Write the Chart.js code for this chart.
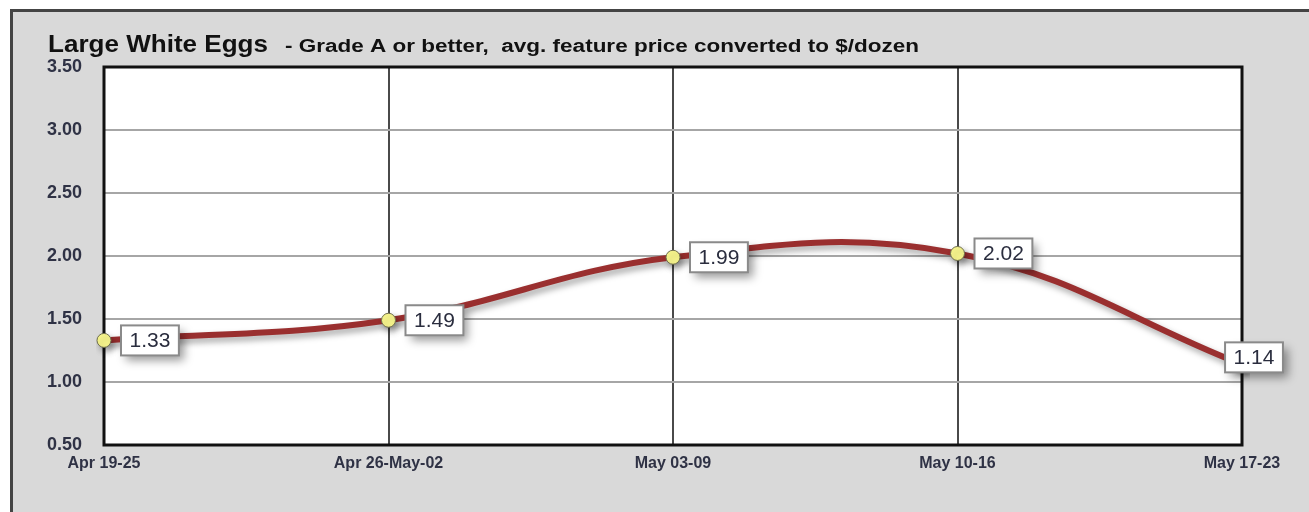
<!DOCTYPE html>
<html>
<head>
<meta charset="utf-8">
<script src="https://cdn.jsdelivr.net/npm/chart.js@4/dist/chart.umd.min.js"></script>
<style>
  html, body { margin: 0; padding: 0; background: #fff; }
  #wrap { width: 1309px; height: 512px; }
</style>
</head>
<body>
<div id="wrap"><canvas id="eggChart" width="1309" height="512"></canvas></div>
<script>
'use strict';
// chart data
const weeks = ['Apr 19-25', 'Apr 26-May-02', 'May 03-09', 'May 10-16', 'May 17-23'];
const prices = [1.33, 1.49, 1.99, 2.02, 1.14];
const yTicks = [0.5, 1.0, 1.5, 2.0, 2.5, 3.0, 3.5];
const titleMain = 'Large White Eggs';
const titleSub = '- Grade A or better,  avg. feature price converted to $/dozen';

const ctx = document.getElementById('eggChart');

// draw text squeezed/stretched to a given width
function drawWide(c, txt, x, y, width) {
  const w = c.measureText(txt).width;
  c.save();
  c.translate(x, y);
  c.scale(width / w, 1);
  c.fillText(txt, 0, 0);
  c.restore();
}

// gray panel, border and title
const framePlugin = {
  id: 'frame',
  beforeDraw(chart) {
    const c = chart.ctx;
    c.save();
    c.fillStyle = '#ffffff';
    c.fillRect(0, 0, chart.width, chart.height);
    c.fillStyle = '#d9d9d9';
    c.fillRect(11, 10, chart.width - 11, chart.height - 10);
    c.strokeStyle = '#444';
    c.lineWidth = 3;
    c.beginPath();
    c.moveTo(11.5, chart.height);
    c.lineTo(11.5, 10.5);
    c.lineTo(chart.width, 10.5);
    c.stroke();
    const a = chart.chartArea;
    c.fillStyle = '#ffffff';
    c.fillRect(a.left, a.top, a.right - a.left, a.bottom - a.top);
    // title
    c.fillStyle = '#111';
    c.textBaseline = 'alphabetic';
    c.textAlign = 'left';
    c.font = 'bold 24px "Liberation Sans", Arial, sans-serif';
    drawWide(c, titleMain, 48, 52, 220);
    c.font = 'bold 18px "Liberation Sans", Arial, sans-serif';
    drawWide(c, titleSub, 285, 52, 634);
    c.restore();
  },
  beforeDatasetsDraw(chart) {
    const a = chart.chartArea;
    const c = chart.ctx;
    c.save();
    c.strokeStyle = '#111';
    c.lineWidth = 3;
    c.strokeRect(a.left, a.top, a.right - a.left, a.bottom - a.top);
    c.restore();
  }
};

// shadow under the line
const shadowPlugin = {
  id: 'lineShadow',
  beforeDatasetDraw(chart) {
    const c = chart.ctx;
    c.save();
    c.shadowColor = 'rgba(0,0,0,0.35)';
    c.shadowBlur = 6;
    c.shadowOffsetX = 3;
    c.shadowOffsetY = 4;
  },
  afterDatasetDraw(chart) {
    chart.ctx.restore();
  }
};

// white boxed value labels
const labelPlugin = {
  id: 'valueLabels',
  afterDatasetsDraw(chart) {
    const c = chart.ctx;
    const meta = chart.getDatasetMeta(0);
    c.save();
    c.font = '21px "Liberation Sans", Arial, sans-serif';
    c.textBaseline = 'middle';
    c.textAlign = 'center';
    meta.data.forEach((pt, i) => {
      const txt = prices[i].toFixed(2);
      const tw = c.measureText(txt).width;
      const bw = tw + 17;
      const bh = 30;
      let bx = pt.x + 17;
      let by = pt.y - bh / 2;
      if (i === prices.length - 1) {
        bx = pt.x + 12 - bw / 2;
        by = pt.y - 7 - bh / 2;
      }
      c.save();
      c.shadowColor = 'rgba(0,0,0,0.4)';
      c.shadowBlur = 9;
      c.shadowOffsetX = 5;
      c.shadowOffsetY = 6;
      c.fillStyle = '#fff';
      c.fillRect(bx, by, bw, bh);
      c.restore();
      c.strokeStyle = '#8a8a8a';
      c.lineWidth = 2;
      c.strokeRect(bx, by, bw, bh);
      c.fillStyle = '#2a2d3e';
      c.fillText(txt, bx + bw / 2, by + bh / 2 + 1);
    });
    c.restore();
  }
};

new Chart(ctx, {
  type: 'line',
  data: {
    labels: weeks,
    datasets: [{
      data: prices,
      borderColor: '#9a2f2f',
      borderWidth: 6,
      tension: 0.4,
      fill: false,
      pointRadius: 7,
      pointBackgroundColor: '#f7f58c',
      pointBorderColor: '#6f6f4f',
      pointBorderWidth: 1
    }]
  },
  options: {
    responsive: false,
    devicePixelRatio: 1,
    animation: false,
    layout: { padding: { left: 0, top: 67, right: 67, bottom: 0 } },
    plugins: {
      legend: { display: false },
      title: { display: false },
      tooltip: { enabled: false }
    },
    scales: {
      x: {
        offset: false,
        grid: { color: '#4a4a4a', lineWidth: 2, drawTicks: false },
        border: { display: false },
        ticks: {
          padding: 9,
          maxRotation: 0,
          autoSkip: false,
          color: '#2f3245',
          font: { family: '"Liberation Sans", Arial, sans-serif', size: 16, weight: 'bold' }
        },
        afterFit(scale) { scale.height = 67; }
      },
      y: {
        min: yTicks[0],
        max: yTicks[yTicks.length - 1],
        afterBuildTicks(scale) { scale.ticks = yTicks.map(v => ({ value: v })); },
        grid: { color: '#a6a6a6', lineWidth: 2, drawTicks: false },
        border: { display: false },
        ticks: {
          padding: 22,
          color: '#2f3245',
          font: { family: '"Liberation Sans", Arial, sans-serif', size: 18, weight: 'bold' },
          callback: v => Number(v).toFixed(2)
        },
        afterFit(scale) { scale.width = 104; }
      }
    }
  },
  plugins: [framePlugin, shadowPlugin, labelPlugin]
});
</script>
</body>
</html>
